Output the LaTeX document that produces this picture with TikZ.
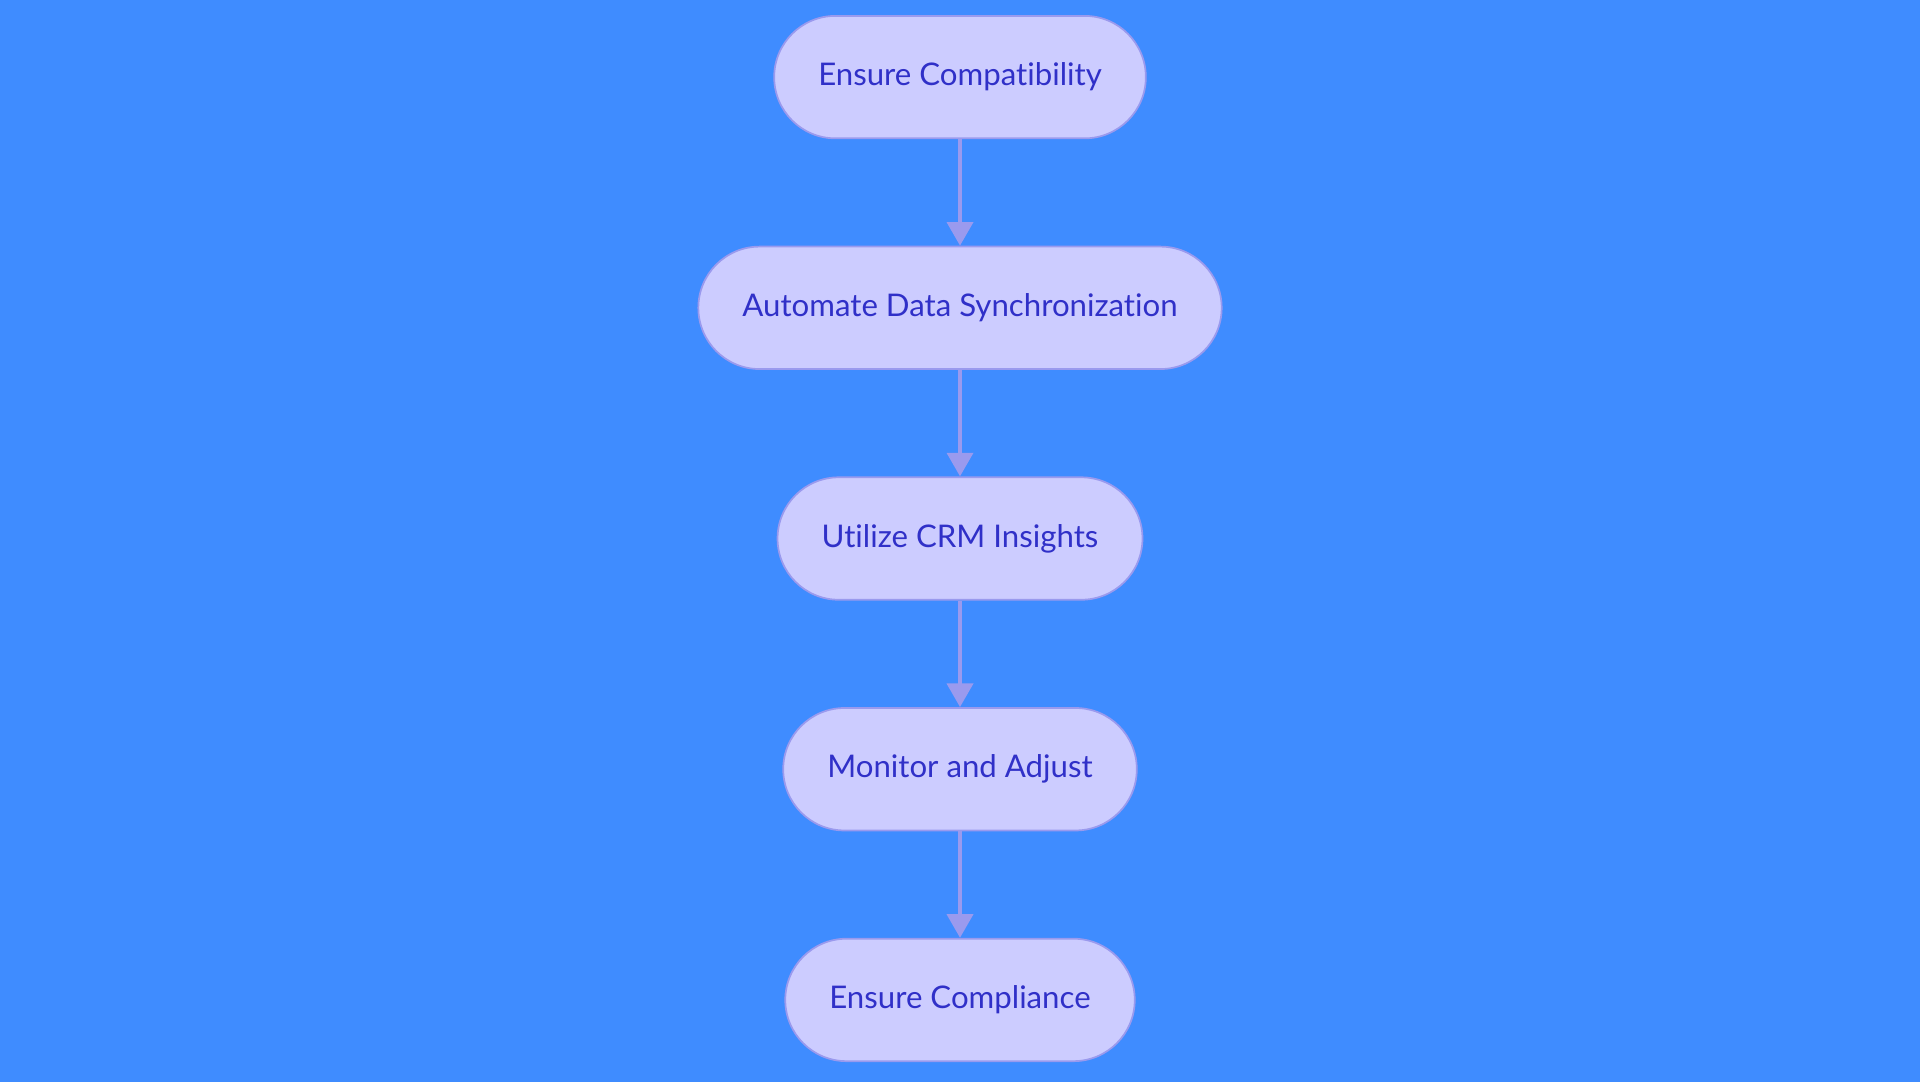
\documentclass[tikz,border=0pt]{standalone}
\usepackage{fontspec}
\setmainfont{Lato}[Ligatures=NoCommon]
\usetikzlibrary{positioning,arrows.meta}
\definecolor{bgblue}{HTML}{3F8CFF}
\definecolor{stepfill}{HTML}{CCCCFF}
\definecolor{stepline}{HTML}{9A9AEE}
\definecolor{steptext}{HTML}{3030C8}
\tikzset{
  stepbox/.style={draw=stepline, line width=0.8pt, fill=stepfill, rounded corners=1cm,
    minimum height=2cm, inner xsep=0.72cm, text=steptext,
    font=\fontsize{14.5}{17}\selectfont},
  flow/.style={draw=stepline, line width=2pt, -{Triangle[width=12pt,length=11pt]}}
}
\begin{document}
\begin{tikzpicture}
  \fill[bgblue] (0,0) rectangle (31.36,17.68);
  \useasboundingbox (0,0) rectangle (31.36,17.68);

  \node[stepbox] (compat) at (15.68,16.42) {Ensure Compatibility};
  \node[stepbox, below=1.74cm of compat] (sync) {Automate Data Synchronization};
  \node[stepbox, below=1.74cm of sync] (crm) {Utilize CRM Insights};
  \node[stepbox, below=1.74cm of crm] (monitor) {Monitor and Adjust};
  \node[stepbox, below=1.74cm of monitor] (comply) {Ensure Compliance};

  \draw[flow] (compat) -- (sync);
  \draw[flow] (sync) -- (crm);
  \draw[flow] (crm) -- (monitor);
  \draw[flow] (monitor) -- (comply);
\end{tikzpicture}
\end{document}
